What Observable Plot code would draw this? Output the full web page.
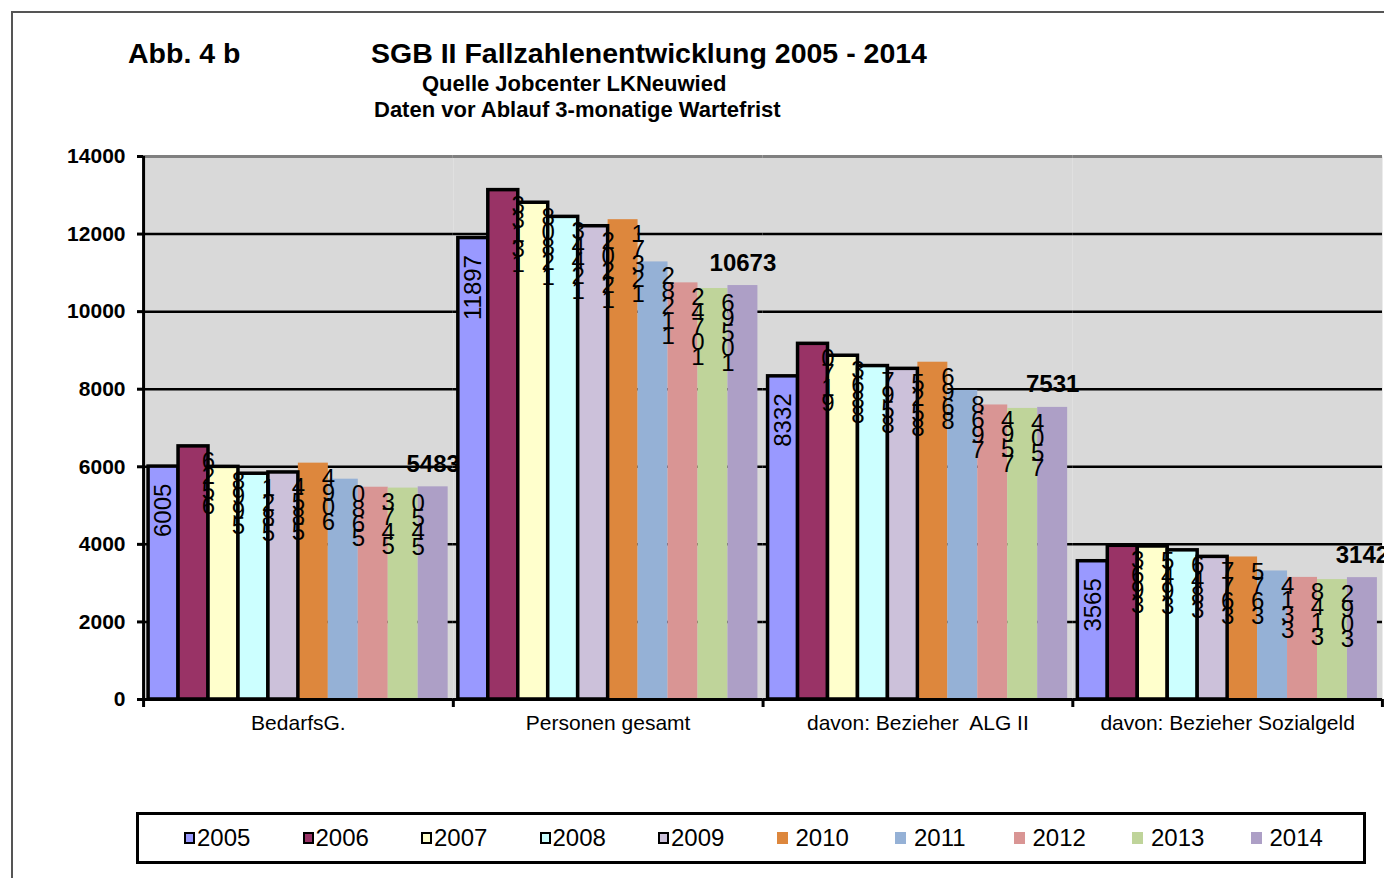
<!DOCTYPE html>
<html><head><meta charset="utf-8">
<script src="https://cdn.jsdelivr.net/npm/d3@7"></script>
<script src="https://cdn.jsdelivr.net/npm/@observablehq/plot@0.6"></script>
<style>
html,body{margin:0;padding:0;background:#fff;}
#page{position:relative;width:1384px;height:878px;overflow:hidden;font-family:"Liberation Sans",Arial,sans-serif;}
#frame{position:absolute;left:11px;top:11px;width:1400px;height:900px;border-left:2px solid #555;border-top:2px solid #555;}
.t{position:absolute;white-space:nowrap;font-weight:bold;color:#000;line-height:1;font-family:"Liberation Sans",Arial,sans-serif;}
#chart{position:absolute;left:0;top:140px;}
#legend{position:absolute;left:136px;top:812px;width:1230px;height:52px;border:3px solid #000;box-sizing:border-box;}
.li{position:absolute;top:0;height:100%;display:flex;align-items:center;font-size:24px;color:#000;}
.sw{box-sizing:border-box;width:11px;height:12px;margin-right:5px;}
</style></head>
<body>
<div id="page">
  <div id="frame"></div>
  <div class="t" style="left:128px;top:39px;font-size:28.5px;">Abb. 4 b</div>
  <div class="t" style="left:371px;top:39px;font-size:28.5px;">SGB II Fallzahlenentwicklung 2005 - 2014</div>
  <div class="t" style="left:422px;top:73px;font-size:22px;">Quelle Jobcenter LKNeuwied</div>
  <div class="t" style="left:374px;top:99px;font-size:22px;">Daten vor Ablauf 3-monatige Wartefrist</div>
  <div id="chart"></div>
  <div id="legend"></div>
</div>
<script>
const groups = ["BedarfsG.", "Personen gesamt", "davon: Bezieher\u00a0 ALG II", "davon: Bezieher Sozialgeld"];
const years = ["2005","2006","2007","2008","2009","2010","2011","2012","2013","2014"];
const bedarfsG   = [6005, 6526, 5998, 5821, 5854, 6094, 5680, 5473, 5450, 5483];
const personen   = [11897, 13133, 12808, 12443, 12202, 12371, 11282, 10742, 10596, 10673];
const alg2       = [8332, 9170, 8863, 8597, 8525, 8696, 7968, 7594, 7504, 7531];
const sozialgeld = [3565, 3963, 3945, 3846, 3677, 3675, 3314, 3148, 3092, 3142];
const yTicks = [0, 2000, 4000, 6000, 8000, 10000, 12000, 14000];
const colors = ["#9999ff","#993366","#ffffcc","#ccffff","#ccc1da","#dd873d","#95b1d6","#d99594","#bfd49a","#ad9fc6"];
const outlinedYears = years.slice(0, 5);

const series = [bedarfsG, personen, alg2, sozialgeld];
const table = [];
groups.forEach((g, gi) => series[gi].forEach((v, yi) => table.push({group: g, year: years[yi], value: v})));
const isOutlined = d => outlinedYears.includes(d.year);

const chart = Plot.plot({
  width: 1384, height: 600,
  marginLeft: 143, marginRight: 2, marginTop: 16, marginBottom: 41,
  style: {fontFamily: "Liberation Sans, Arial, sans-serif", background: "transparent", overflow: "visible", color: "#000"},
  fx: {domain: groups, padding: 0, round: false, label: null, axis: null},
  x: {domain: years, paddingInner: 0, paddingOuter: 0.17, round: false, axis: null},
  y: {domain: [0, 14000], axis: null, label: null},
  color: {domain: years, range: colors},
  marks: [
    Plot.frame({fill: "#d9d9d9", stroke: null}),
    Plot.ruleY(yTicks.filter(d => d > 0 && d < 14000), {stroke: "#000", strokeWidth: 2.5}),
    Plot.ruleY([14000], {stroke: "#808080", strokeWidth: 3}),
    Plot.barY(table.filter(d => !isOutlined(d)), {fx: "group", x: "year", y: "value", fill: "year"}),
    Plot.barY(table.filter(isOutlined), {fx: "group", x: "year", y: "value", fill: "year", stroke: "#000", strokeWidth: 3.5}),
    Plot.ruleY([0], {stroke: "#000", strokeWidth: 3}),
    Plot.ruleX([groups[0]], {fx: d => d, x: () => years[0], dx: -20, y1: 0, y2: 14000, stroke: "#000", strokeWidth: 3}),
    Plot.ruleX(groups, {fx: d => d, x: () => years[0], dx: -20, y1: 0, y2: 0, insetBottom: -8, stroke: "#000", strokeWidth: 3}),
    Plot.ruleX([groups[3]], {fx: d => d, x: () => years[9], dx: 20, y1: 0, y2: 0, insetBottom: -8, stroke: "#000", strokeWidth: 3}),
    Plot.axisY(yTicks, {anchor: "left", label: null, tickSize: 6, tickPadding: 12, fontSize: 21, fontWeight: "bold", strokeWidth: 3, tickFormat: d => String(d)}),
    Plot.axisFx({anchor: "bottom", label: null, tickSize: 0, tickPadding: 16, fontSize: 21}),
    Plot.text(table.filter(d => d.year === years[0]), {fx: "group", x: "year", y: "value", text: d => String(d.value), rotate: -90, textAnchor: "end", dy: 17, fontSize: 24}),
    Plot.text(table.filter(d => d.year !== years[0] && d.year !== years[9]), {fx: "group", x: "year", y: "value", text: d => String(d.value).split("").reverse().join("\n"), dx: 15, dy: 12, lineAnchor: "top", lineHeight: 0.62, fontSize: 24}),
    Plot.text(table.filter(d => d.year === years[9]), {fx: "group", x: "year", y: "value", text: d => String(d.value), lineAnchor: "bottom", dy: -15, fontSize: 24, fontWeight: "bold"})
  ]
});
document.getElementById("chart").appendChild(chart);

const legend = document.getElementById("legend");
years.forEach((yr, i) => {
  const item = document.createElement("div");
  item.className = "li";
  item.style.left = (45 + i * 118.5) + "px";
  const sw = document.createElement("div");
  sw.className = "sw";
  sw.style.background = colors[i];
  if (outlinedYears.includes(yr)) { sw.style.border = "2.5px solid #000"; sw.style.marginRight = "2px"; }
  else { sw.style.marginRight = "8px"; }
  item.appendChild(sw);
  const tx = document.createElement("span");
  tx.textContent = yr;
  item.appendChild(tx);
  legend.appendChild(item);
});
</script>
</body></html>
